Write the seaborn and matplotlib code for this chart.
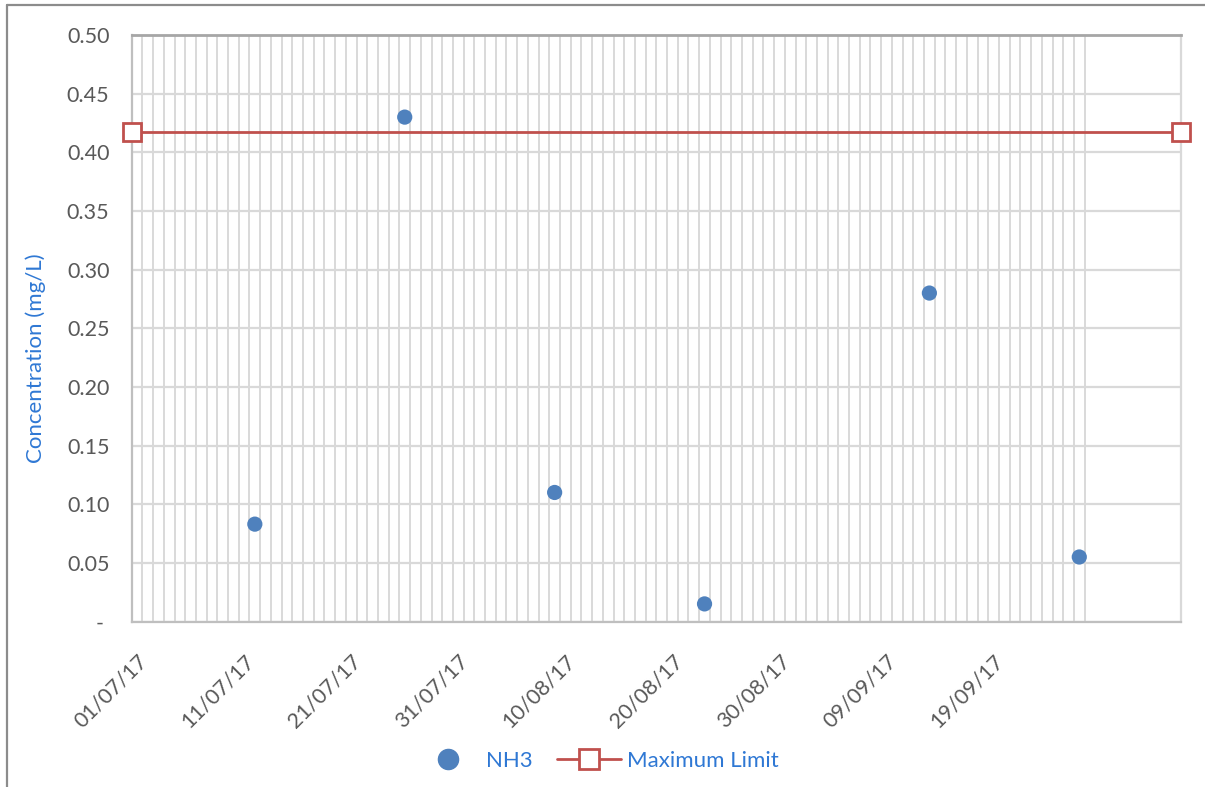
import matplotlib
matplotlib.use("Agg")
import matplotlib.pyplot as plt
import matplotlib.dates as mdates
from matplotlib.lines import Line2D
from matplotlib.ticker import FixedLocator, FuncFormatter
import numpy as np
import pandas as pd
import seaborn as sns

# Ammonia (NH3) sampling results and the discharge limit
sample_dates = ["2017-07-12", "2017-07-26", "2017-08-09", "2017-08-23", "2017-09-13", "2017-09-27"]
nh3_values = [0.083, 0.43, 0.11, 0.015, 0.28, 0.055]
limit_dates = ["2017-07-01", "2017-10-07"]
limit_values = [0.417, 0.417]

axis_start = "2017-07-01"
axis_grid_end = "2017-09-28"
axis_end = "2017-10-07"
tick_label_dates = pd.date_range("2017-07-01", "2017-09-19", freq="10D")
y_ticks = np.round(np.arange(0, 0.501, 0.05), 2)

BLUE = "#4F81BD"
RED = "#C0504D"
TEXT_BLUE = "#2F78D4"
TICK_GREY = "#595959"
GRID = "#D9D9D9"

sns.set_theme(style="white")
plt.rcParams["font.family"] = ["Lato", "DejaVu Sans"]

fig = plt.figure(figsize=(12.05, 7.87), dpi=100)
ax = fig.add_axes([131.7 / 1205, 1 - 621.5 / 787, (1181 - 131.7) / 1205, (621.5 - 35) / 787])

# each date sits in the middle of its one-day slot
half_day = pd.Timedelta(hours=12)
nh3_df = pd.DataFrame({"date": pd.to_datetime(sample_dates) + half_day, "NH3": nh3_values})
limit_df = pd.DataFrame({"date": pd.to_datetime(limit_dates), "limit": limit_values})

sns.scatterplot(data=nh3_df, x="date", y="NH3", ax=ax, s=120, color=BLUE,
                edgecolor="none", zorder=4, legend=False)
sns.lineplot(data=limit_df, x="date", y="limit", ax=ax, color=RED, lw=2,
             marker="s", markersize=13.5, markerfacecolor="white",
             markeredgecolor=RED, markeredgewidth=2, clip_on=False, zorder=5,
             legend=False)

ax.set_xlim(mdates.date2num(pd.Timestamp(axis_start)), mdates.date2num(pd.Timestamp(axis_end)))
ax.set_ylim(0, 0.5)

# daily vertical gridlines, labels every ten days
day_edges = pd.date_range(axis_start, axis_grid_end, freq="D")
ax.xaxis.set_minor_locator(FixedLocator(mdates.date2num(day_edges)))
ax.xaxis.set_major_locator(FixedLocator(mdates.date2num(tick_label_dates + half_day)))
ax.xaxis.set_major_formatter(mdates.DateFormatter("%d/%m/%y"))
ax.set_yticks(y_ticks)
ax.yaxis.set_major_formatter(FuncFormatter(lambda v, p: "- " if abs(v) < 1e-9 else f"{v:.2f}"))

ax.grid(which="minor", axis="x", color=GRID, lw=1.4)
ax.grid(which="major", axis="x", visible=False)
ax.grid(which="major", axis="y", color=GRID, lw=1.6)
ax.set_axisbelow(True)

ax.tick_params(axis="both", which="both", length=0)
ax.tick_params(axis="y", labelsize=15.5, labelcolor=TICK_GREY, pad=16)
ax.tick_params(axis="x", labelsize=15.5, labelcolor=TICK_GREY, pad=21)
for lbl in ax.get_xticklabels():
    lbl.set_rotation(45)
    lbl.set_ha("right")
    lbl.set_va("top")
    lbl.set_rotation_mode("anchor")

ax.set_xlabel("")
ax.set_ylabel("Concentration (mg/L)", fontsize=16, color=TEXT_BLUE)
ax.yaxis.set_label_coords(-0.082, 0.449)

for side, col, w in [("top", "#A6A6A6", 2.0), ("left", "#BFBFBF", 1.6),
                     ("bottom", "#BFBFBF", 1.6), ("right", GRID, 1.6)]:
    ax.spines[side].set_color(col)
    ax.spines[side].set_linewidth(w)

# frame of the chart area
fig.add_artist(Line2D([7 / 1205, 7 / 1205], [0, 1 - 5 / 787], transform=fig.transFigure,
                      color="#8C8C8C", lw=1.6))
fig.add_artist(Line2D([7 / 1205, 1], [1 - 5 / 787, 1 - 5 / 787], transform=fig.transFigure,
                      color="#8C8C8C", lw=1.6))

handles = [
    Line2D([], [], ls="none", marker="o", markersize=14.5, color=BLUE),
    Line2D([], [], color=RED, lw=2, marker="s", markersize=14.5,
           markerfacecolor="white", markeredgecolor=RED, markeredgewidth=2),
]
fig.legend(handles, ["NH3", "Maximum Limit"], loc="center",
           bbox_to_anchor=(0.496, 1 - 761 / 787), ncol=2, frameon=False,
           fontsize=16, handlelength=2.85, handletextpad=0.3, columnspacing=1.1,
           labelcolor=TEXT_BLUE)

fig.savefig("out.png", dpi=100)
